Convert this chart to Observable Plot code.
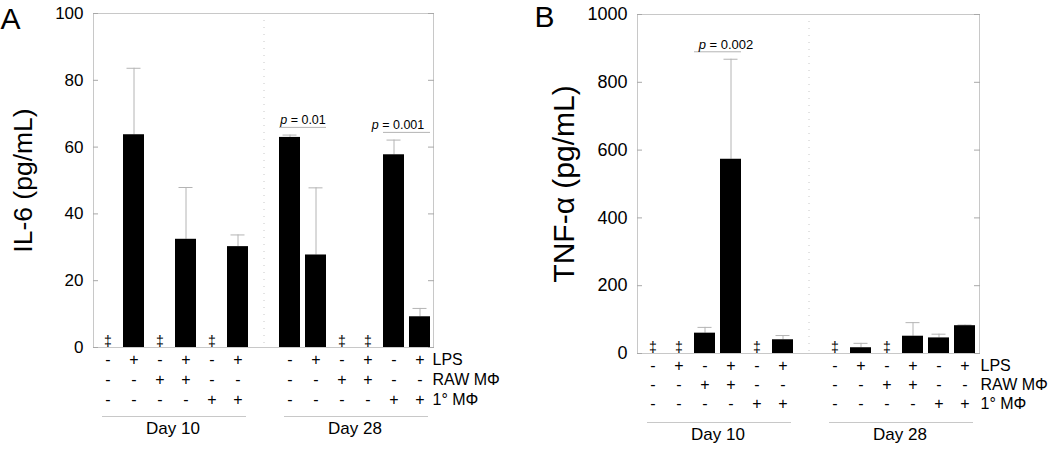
<!DOCTYPE html>
<html><head><meta charset="utf-8">
<script src="https://cdn.jsdelivr.net/npm/d3@7"></script>
<script src="https://cdn.jsdelivr.net/npm/@observablehq/plot@0.6"></script>
<style>
html,body{margin:0;padding:0;background:#fff;}
#wrap{display:flex;width:1050px;height:450px;overflow:hidden;}
</style></head><body><div id="wrap"></div>
<script>
// ---- data ----
const days = ["Day 10", "Day 28"];
const conditions = ["LPS", "RAW MΦ", "1° MΦ"];
const lpsSigns  = ["-", "+", "-", "+", "-", "+"];
const rawSigns  = ["-", "-", "+", "+", "-", "-"];
const primSigns = ["-", "-", "-", "-", "+", "+"];

const il6Day10    = [null, 63.7, null, 32.4, null, 30.2];
const il6Day28    = [62.9, 27.7, null, null, 57.7, 9.2];
const il6ErrDay10 = [null, 83.6, null, 47.9, null, 33.7];
const il6ErrDay28 = [63.6, 47.8, null, null, 62.1, 11.7];

const tnfDay10    = [null, null, 60, 573, null, 40.5];
const tnfDay28    = [null, 17, null, 51, 46, 82];
const tnfErrDay10 = [null, null, 77, 868, null, 53];
const tnfErrDay28 = [null, 30, null, 91, 57, 84];

const il6Ticks = [0, 20, 40, 60, 80, 100];
const tnfTicks = [0, 200, 400, 600, 800, 1000];

const il6PLabels = ["p = 0.01", "p = 0.001"];
const il6PDay    = [1, 1];
const il6PFrom   = [0, 4];
const il6PLevel  = [65.9, 64.4];

const tnfPLabels = ["p = 0.002"];
const tnfPDay    = [0];
const tnfPFrom   = [2];
const tnfPLevel  = [890];

// ---- helpers ----
const slotId = (d, i) => `${days[d]}|${i}`;
const slots = [...d3.range(6).map(i => slotId(0, i)), "gap", ...d3.range(6).map(i => slotId(1, i))];
const signRows = [lpsSigns, rawSigns, primSigns];
const FONT = "'Liberation Sans', Arial, sans-serif";

function panel(cfg) {
  const rows = [];
  [cfg.d10, cfg.d28].forEach((vals, d) => vals.forEach((v, i) => {
    rows.push({slot: slotId(d, i), value: v, err: [cfg.e10, cfg.e28][d][i]});
  }));
  const bars = rows.filter(r => r.value != null);
  const errs = rows.filter(r => r.err != null);
  const missing = rows.filter(r => r.value == null);
  const signs = [];
  signRows.forEach((arr, r) => days.forEach((_, d) => arr.forEach((s, i) => signs.push({slot: slotId(d, i), row: r, s}))));
  const groups = days.map((name, d) => ({name, x1: slotId(d, 0), x2: slotId(d, 5), mid: slotId(d, 2)}));
  const ps = cfg.pLabels.map((label, k) => ({label, x1: slotId(cfg.pDay[k], cfg.pFrom[k]), x2: slotId(cfg.pDay[k], cfg.pFrom[k] + 1), y: cfg.pLevel[k]}));
  const gray = "#c8c8c8";
  const ink = "#000";
  const marks = [
    Plot.frame({stroke: gray}),
    Plot.ruleX(["gap"], {stroke: "#c8c8c8", strokeDasharray: "1,6"}),
    Plot.axisY(cfg.ticks, {anchor: "left", tickSize: 0, tickPadding: 10, label: null, fontSize: cfg.tickFont, tickFormat: d => String(d), fill: ink, fontFamily: FONT}),
    Plot.axisY(cfg.ticks, {anchor: "left", tickSize: -5, tickFormat: () => "", label: null, stroke: "#a8a8a8"}),
    Plot.axisY(cfg.ticks, {anchor: "right", tickSize: -6, tickFormat: () => "", label: null, stroke: "#a8a8a8"}),
    Plot.ruleX(errs, {x: "slot", y1: d => d.value ?? 0, y2: "err", stroke: "#b4b4b4"}),
    Plot.tickY(errs, {x: "slot", y: "err", stroke: "#b4b4b4", insetLeft: 3.5, insetRight: 3.5}),
    Plot.barY(bars, {x: "slot", y: "value", fill: ink}),
    Plot.text(missing, {x: "slot", y: 0, text: () => "‡", lineAnchor: "bottom", dy: -2, fontSize: 14, fill: ink, fontFamily: FONT}),
    Plot.ruleY(ps, {x1: "x1", x2: "x2", y: "y", stroke: "#b4b4b4"}),
    ...ps.map((p, k) => Plot.text([p], {x: "x1", y: "y", text: "label", dx: cfg.pDx[k], dy: -3, lineAnchor: "bottom", fontSize: cfg.pFont, fill: ink, fontFamily: FONT})),
    Plot.ruleY(groups, {x1: "x1", x2: "x2", y: () => 0, dy: 69, stroke: gray, insetLeft: 5, insetRight: 2}),
    Plot.text(groups, {x: "mid", frameAnchor: "bottom", dx: 13, dy: 86, text: "name", fontSize: 17, fill: ink, fontFamily: FONT}),
    Plot.text([cfg.yLabel], {frameAnchor: "left", dx: cfg.yLabelX - cfg.marginLeft, rotate: -90, text: d => d, textAnchor: "middle", lineAnchor: "middle", fontSize: cfg.yLabelFont, fill: ink, fontFamily: FONT}),
    Plot.text([cfg.letter], {frameAnchor: "top-left", dx: cfg.letterX - cfg.marginLeft, dy: cfg.letterY - cfg.marginTop, text: d => d, textAnchor: "start", lineAnchor: "top", fontSize: 30, fontFamily: FONT, fill: ink})
  ];
  signRows.forEach((_, r) => {
    marks.push(Plot.text(signs.filter(s => s.row === r), {x: "slot", frameAnchor: "bottom", dy: cfg.rowDy[r], text: "s", fontSize: 16, lineAnchor: "middle", fill: ink, fontFamily: FONT}));
    marks.push(Plot.text([conditions[r]], {frameAnchor: "bottom-right", dx: cfg.rowLabelDx, dy: cfg.rowDy[r], text: d => d, textAnchor: "start", fontSize: 16, lineAnchor: "middle", fill: ink, fontFamily: FONT}));
  });
  const svg = Plot.plot({
    width: 525, height: 450,
    marginLeft: cfg.marginLeft, marginRight: cfg.marginRight, marginTop: cfg.marginTop, marginBottom: cfg.marginBottom,
    x: {type: "band", domain: slots, paddingInner: 0.2, paddingOuter: 0.1, axis: null},
    y: {domain: cfg.domain, axis: null},
    style: {fontFamily: FONT, fontSize: "17px", color: "#000", background: "#fff", overflow: "visible"},
    marks
  });
  svg.querySelectorAll("text").forEach(t => {
    if (t.textContent.startsWith("p = ") && t.children.length === 0) {
      const rest = t.textContent.slice(1);
      t.textContent = "";
      const ts = document.createElementNS("http://www.w3.org/2000/svg", "tspan");
      ts.setAttribute("font-style", "italic");
      ts.textContent = "p";
      t.appendChild(ts);
      t.appendChild(document.createTextNode(rest));
    }
  });
  return svg;
}

const wrap = document.getElementById("wrap");
wrap.appendChild(panel({
  d10: il6Day10, d28: il6Day28, e10: il6ErrDay10, e28: il6ErrDay28,
  ticks: il6Ticks, domain: [0, 100],
  pLabels: il6PLabels, pDay: il6PDay, pFrom: il6PFrom, pLevel: il6PLevel, pDx: [13, 4], pFont: 12.5,
  marginLeft: 93, marginRight: 92, marginTop: 13, marginBottom: 103,
  tickFont: 17, yLabel: "IL-6 (pg/mL)", yLabelX: 23, yLabelFont: 26.5,
  letter: "A", letterX: 0, letterY: 7,
  rowDy: [12, 32, 52], rowLabelDx: -1
}));
wrap.appendChild(panel({
  d10: tnfDay10, d28: tnfDay28, e10: tnfErrDay10, e28: tnfErrDay28,
  ticks: tnfTicks, domain: [0, 1000],
  pLabels: tnfPLabels, pDay: tnfPDay, pFrom: tnfPFrom, pLevel: tnfPLevel, pDx: [21], pFont: 13,
  marginLeft: 112, marginRight: 71, marginTop: 14, marginBottom: 97,
  tickFont: 18, yLabel: "TNF-α (pg/mL)", yLabelX: 564 - 525, yLabelFont: 30,
  letter: "B", letterX: 9, letterY: 5,
  rowDy: [12, 31, 50], rowLabelDx: 1
}));
</script></body></html>
